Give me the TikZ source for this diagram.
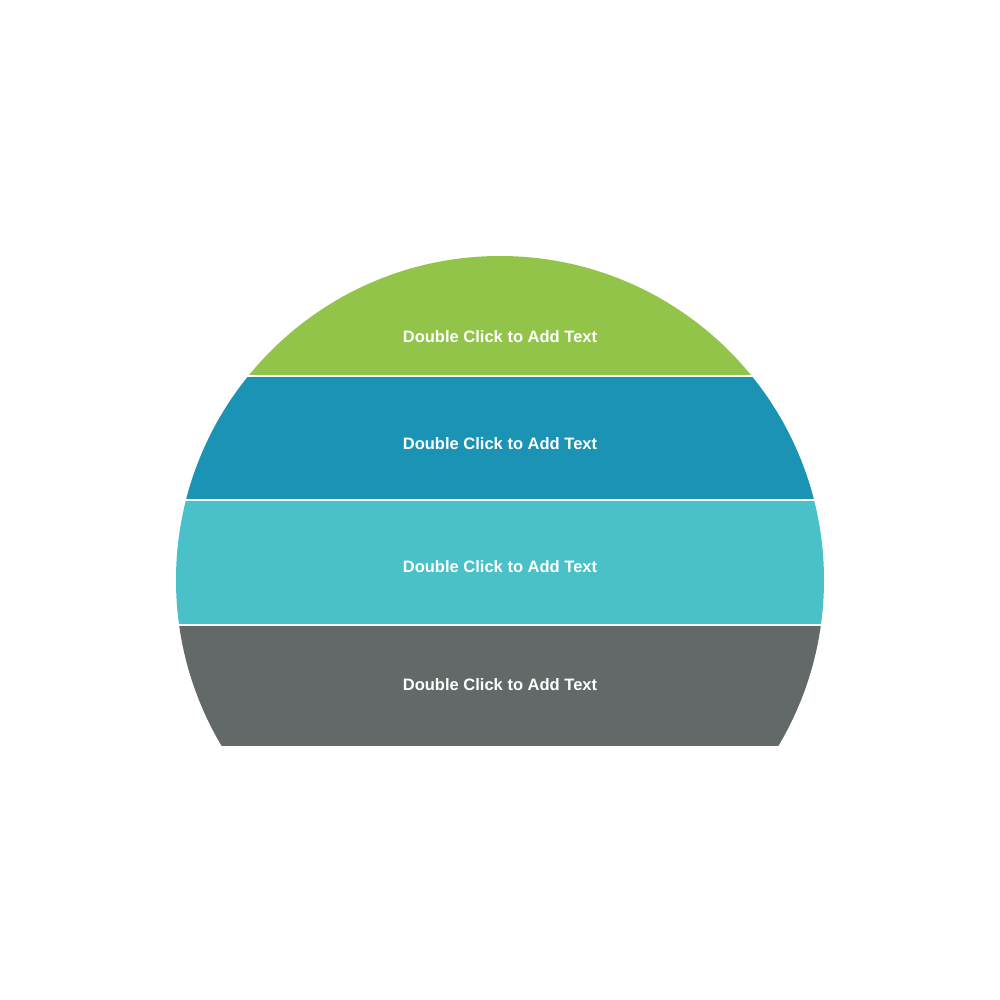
\documentclass[tikz,border=0pt]{standalone}
\usepackage{fontspec}
\setmainfont{Liberation Sans}
\definecolor{bandgreen}{HTML}{92C44A}
\definecolor{bandblue}{HTML}{1A93B5}
\definecolor{bandteal}{HTML}{4AC0C9}
\definecolor{bandgray}{HTML}{636968}
\begin{document}
\begin{tikzpicture}[x=0.5mm,y=-0.5mm,label/.style={text=white, font=\fontsize{23.5}{26}\selectfont\bfseries}]
	\useasboundingbox (0,0) rectangle (1000,1000);
	% bands
	\foreach \top/\bot/\col in {256/376/bandgreen, 376/500/bandblue, 500/625/bandteal, 625/745/bandgray}{
		\begin{scope}
			\clip (0,\top) rectangle (1000,\bot);
			\fill[\col] (500,580) circle [radius=16.2cm];
		\end{scope}
	}
	% gaps
	\foreach \y in {376,500,625}
		\draw[white, line width=4pt] (150,\y) -- (850,\y);
	% texts
	\node[label] (t1) at (500,337) {Double Click to Add Text};
	\node[label] (t2) at (500,444) {Double Click to Add Text};
	\node[label] (t3) at (500,567) {Double Click to Add Text};
	\node[label] (t4) at (500,685) {Double Click to Add Text};
\end{tikzpicture}
\end{document}
